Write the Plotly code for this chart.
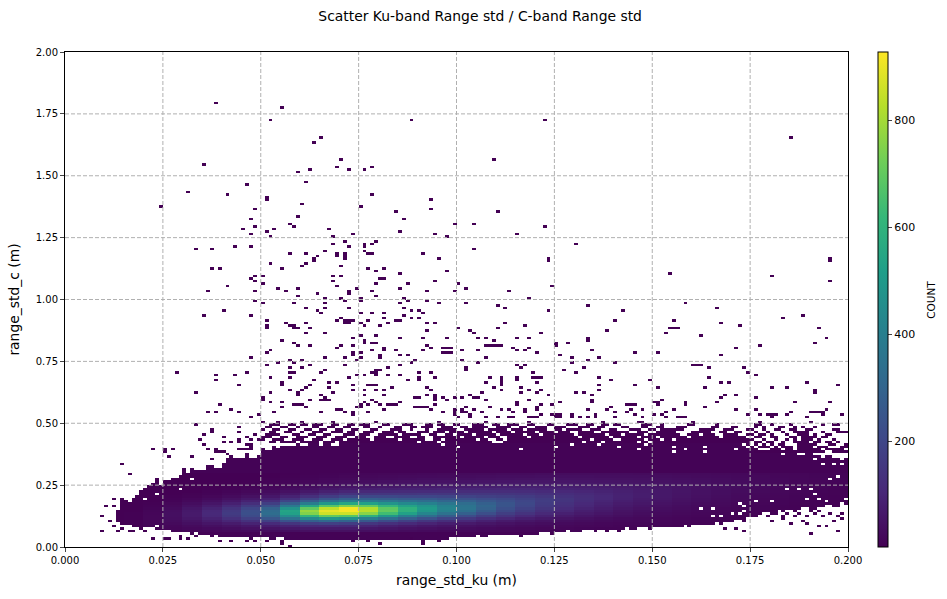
import numpy as np
import plotly.graph_objects as go

# histogram cells are 0.001 wide and 0.01 tall
n_xbins = 200
n_ybins = 200
x_width = 0.001
y_width = 0.01

x_ticks = [0.0, 0.025, 0.05, 0.075, 0.1, 0.125, 0.15, 0.175, 0.2]
y_ticks = [0.0, 0.25, 0.5, 0.75, 1.0, 1.25, 1.5, 1.75, 2.0]
count_ticks = [200, 400, 600, 800]
count_min = 3
count_max = 928
fringe_count = 8

# counts: one row per y from 0.06 to 0.29, one column per 0.005 of x from 0.010
core_first_row = 6
core_first_xbin = 10
core_xbin_step = 5
core_counts = [
    [1,3,8,12,16,20,24,28,32,38,42,44,44,40,36,32,28,24,22,20,18,16,14,12,11,10,9,8,7,6,5,5,4,4,3,3,2,2],
    [2,4,10,16,22,28,34,42,50,60,68,70,68,62,55,48,42,36,32,28,24,21,18,16,14,12,11,10,8,7,6,5,5,4,3,3,2,2],
    [2,5,13,20,30,40,50,62,76,92,105,110,105,95,82,72,62,54,46,40,34,29,25,21,18,16,14,12,10,9,8,6,5,5,4,3,3,2],
    [2,6,15,26,40,56,72,92,115,145,170,180,170,150,130,112,95,80,68,58,48,40,34,28,24,20,17,15,13,11,9,8,6,5,5,4,3,2],
    [2,6,17,32,50,74,100,135,180,240,285,310,295,255,215,180,150,125,105,85,70,58,48,38,32,27,22,19,16,13,11,9,8,6,5,4,3,3],
    [2,6,18,36,60,90,130,180,250,350,440,490,470,400,340,280,235,190,155,125,100,80,65,52,42,35,28,24,20,16,13,11,9,7,6,5,4,3],
    [2,6,18,40,68,105,155,215,305,450,610,700,680,590,490,400,330,270,220,175,140,110,88,70,56,46,36,29,24,20,16,13,10,8,7,5,4,3],
    [2,5,17,40,70,110,165,230,330,530,750,860,860,760,640,530,430,350,285,225,175,140,108,86,68,56,44,35,28,23,19,15,12,10,8,6,5,4],
    [1,4,15,36,66,105,160,225,325,540,780,895,920,830,700,590,490,405,335,265,205,165,128,102,80,65,50,41,33,27,22,18,14,11,9,7,5,4],
    [1,3,12,30,58,92,140,200,290,480,700,840,915,820,690,590,505,420,360,290,230,185,145,115,92,74,58,47,38,31,25,20,16,13,10,8,6,5],
    [1,2,9,24,46,74,112,165,235,380,550,680,750,700,610,535,480,410,355,300,245,200,160,128,102,82,65,53,43,35,28,23,18,14,11,9,7,5],
    [1,2,6,18,34,56,85,125,175,280,390,490,555,530,480,440,410,365,330,285,245,205,165,135,110,90,72,60,48,39,32,26,20,16,13,10,8,6],
    [1,1,4,12,24,40,62,90,125,195,275,350,400,390,370,345,330,305,285,255,230,200,170,142,118,98,80,66,54,44,36,29,23,18,14,11,9,7],
    [1,1,3,8,16,28,44,64,88,135,190,245,285,285,275,265,260,245,235,220,205,185,165,145,125,105,88,72,60,49,40,32,26,20,16,13,10,8],
    [1,1,2,5,10,18,30,44,62,92,130,170,200,205,205,200,200,195,190,180,175,165,150,135,120,105,90,76,63,52,43,35,28,22,18,14,11,9],
    [1,1,1,3,7,12,20,30,44,64,90,118,140,148,150,150,152,150,150,148,145,140,130,122,112,100,88,76,64,54,45,37,30,24,19,15,12,10],
    [1,1,1,2,4,8,14,21,31,46,64,84,100,108,112,114,116,118,120,120,120,118,112,106,100,92,84,74,64,55,46,38,32,26,21,17,13,10],
    [1,1,1,1,3,5,9,15,22,33,46,60,72,80,84,88,90,94,96,98,100,100,96,92,88,84,76,70,62,54,46,40,33,27,22,18,14,11],
    [1,1,1,1,2,4,6,10,16,24,34,44,54,60,64,68,72,75,78,80,82,84,82,80,76,74,68,64,58,52,46,40,34,28,23,19,15,12],
    [1,1,1,1,1,2,4,7,11,18,25,33,40,46,50,54,57,60,63,66,68,70,70,68,66,64,60,56,52,48,43,38,33,28,24,20,16,12],
    [1,1,1,1,1,2,3,5,8,13,19,25,31,35,39,42,45,48,51,54,56,58,58,58,56,54,52,50,46,43,39,35,31,27,23,20,16,13],
    [1,1,1,1,1,1,2,4,6,10,14,19,24,27,30,33,36,38,41,43,45,47,48,48,47,46,44,43,40,37,35,32,28,25,22,19,16,13],
    [1,1,1,1,1,1,2,3,4,7,11,14,18,21,23,26,28,30,32,34,36,38,39,39,39,38,37,36,34,32,30,28,25,23,20,18,15,12],
    [1,1,1,1,1,1,1,2,3,5,8,11,14,16,18,20,22,24,26,27,29,30,31,32,32,31,31,30,29,27,26,24,22,20,18,16,14,12],
]

# lowest and highest filled row of the solid band, for x bins 13 to 199
band_first_xbin = 13
band_top = [
    14,18,18,17,19,20,22,23,24,25,27,24,26,26,27,27,28,31,29,31,30,30,30,32,32,31,31,33,35,36,35,35,35,37,35,35,36,
    39,38,38,40,39,40,40,40,40,41, 40,40,41,41,41,40,41,41,40,40, 41,41,41,41,41,41,41,41,41,41,
    41,41,41,41,41,41,41,41,41,41, 41,41,41,41,41,41,41,41,41,41, 41,41,41,41,41,41,41,41,41,41,
    41,41,41,41,41,41,41,41,41,41, 41,41,41,41,41,41,41,41,41,41, 41,41,41,41,41,41,41,41,41,41,
    41,41,41,41,41,41,41,41,41,41, 41,41,41,41,41,41,41,41,41,41, 41,41,41,41,41,41,41,41,41,41,
    41,41,41,40,39,38,
    37,37,37,38,37,37,37,36,37,37, 37,36,36,37,37,36,36,35,36,36, 35,35,34,35,
]
band_bottom = [
    10,9,9,9,8,8,8,8,8,8,7,7,7,7,6,6,6,6,6,5,6,5,5,5,4,5,4,4,4,4,4,4,4,4,3,4,4,
    4,4,3,3,4,4,3,3,3,3, 3,3,3,3,3,3,3,3,3,3, 3,3,3,3,3,3,3,3,3,3,
    3,3,3,3,3,3,3,3,3,3, 3,3,3,3,3,3,3,3,4,4, 4,4,4,4,4,5,4,4,5,5,
    5,5,5,5,5,5,4,5,5,5, 5,6,6,6,5,6,6,6,7,6, 6,6,7,7,7,6,7,7,7,7,
    7,7,7,8,7,7,8,8,8,7, 8,8,8,8,8,8,8,8,9,8, 9,9,9,9,9,9,10,9,10,10,
    10,11,11,10,12,12, 13,13,14,14,13,13,15,14,15,15,14,15,16,16,15,15,16,16,17,17,16,16,17,17,
]

# white cells inside the band, (x bin, y row)
band_holes = [
    (20,19),(23,21),(29,23),(32,27),(23,8),(116,39),(191,35),(193,33),(196,33),(198,33),(199,36),(197,28),(195,27),
    (184,23),(187,23),(190,23),(191,21),(189,19),(192,19),(194,18),(198,17),(199,19),(176,18),(180,18),(173,16),
    (162,15),(165,15),(172,17),(173,14),(170,13),(172,13),(165,12),(167,12),(146,39),(155,40),(155,38),(158,39),
    (163,40),(163,38),(171,39),(96,41),(100,40),(125,40),(129,41),(136,41),(141,40),(148,41),
]

# loose cells above and around the band, (x bin, y row)
upper_cells = [
    (38,179),(55,177),(52,172),(88,172),(122,172),(65,165),(185,165),(63,163),(70,156),(109,156),(35,154),(69,153),
    (78,153),(62,152),(72,152),(76,152),(59,151),(61,147),(46,146),(31,143),(41,142),(78,142),(51,141),(51,140),
    (93,140),(60,138),(24,137),(75,137),(48,136),(93,136),(84,135),(110,135),(59,133),(47,132),(86,132),(57,130),
    (99,130),(104,130),(48,129),(58,129),(122,129),(45,128),(53,128),(67,128),(51,127),(85,127),(47,126),(73,126),
    (94,126),(115,126),(52,125),(68,125),(97,125),(71,123),(79,123),(68,122),(76,122),(78,122),(130,122),(43,121),
    (47,121),(72,121),(76,121),(33,120),(37,120),(104,120),(66,119),(76,119),(57,118),(61,118),(69,118),(71,118),
    (77,118),(78,118),(91,118),(64,117),(69,117),(71,117),(95,116),(63,116),(71,116),(123,116),(195,116),(123,115),
    (195,115),(63,115),(52,114),(61,114),(60,113),(70,113),(37,112),(39,112),(55,112),(77,112),(81,112),(79,111),
    (97,111),(85,110),(154,110),(48,109),(50,109),(68,109),(70,109),(180,109),(47,108),(80,108),(81,108),(48,107),
    (68,107),(94,107),(195,107),(50,106),(79,106),(87,106),(100,106),(41,105),(69,105),(124,105),(54,104),(59,104),
    (74,104),(85,104),(102,104),(36,103),(48,103),(56,103),(72,103),(78,103),(92,103),(99,103),(113,103),(64,102),
    (72,102),(59,101),(79,101),(66,100),(70,100),(75,100),(86,100),(118,100),(48,99),(71,99),(75,99),(87,99),(92,99),
    (50,98),(58,98),(66,98),(85,98),(95,98),(102,98),(158,98),(110,97),(133,97),(61,96),(66,96),(72,96),(86,96),
    (112,96),(166,96),(40,95),(64,95),(88,95),(90,95),(123,95),(142,95),(65,94),(75,94),(78,94),(81,94),(91,94),
    (35,93),(47,93),(86,93),(188,93),(70,92),(81,92),(88,92),(90,92),(183,92),(51,91),(69,91),(71,91),(72,91),(73,91),
    (77,91),(84,91),(85,91),(140,91),(155,91),(56,90),(61,90),(71,90),(72,90),(75,90),(82,90),(92,90),(94,90),(112,90),
    (167,90),(76,89),(80,89),(51,89),(57,89),(58,89),(117,89),(172,89),(51,88),(58,88),(59,88),(62,88),(100,88),
    (110,88),(154,88),(155,88),(156,88),(192,88),(92,87),(103,87),(138,87),(61,86),(66,86),(104,86),(121,86),(153,86),
    (75,85),(79,85),(162,85),(73,84),(85,84),(91,84),(97,84),(105,84),(107,84),(115,84),(118,84),(133,84),(194,84),
    (55,83),(76,83),(109,83),(133,83),(58,82),(76,82),(78,82),(79,82),(125,82),(128,82),(191,82),(59,81),(62,81),
    (70,81),(73,81),(92,81),(107,81),(108,81),(109,81),(110,81),(111,81),(125,81),(177,81),(69,80),(81,80),(93,80),
    (96,80),(97,80),(98,80),(114,80),(118,80),(171,80),(52,79),(78,79),(81,79),(84,79),(91,79),(101,79),(105,79),
    (115,79),(117,79),(134,79),(51,78),(73,78),(75,78),(96,78),(97,78),(98,78),(120,78),(145,78),(151,78),(73,77),
    (80,77),(85,77),(87,77),(126,77),(167,77),(47,76),(66,76),(71,76),(75,76),(80,76),(107,76),(129,76),(136,76),
    (57,75),(60,75),(74,75),(89,75),(101,75),(133,75),(54,74),(58,74),(88,74),(105,74),(129,74),(140,74),(51,73),
    (62,73),(71,73),(85,73),(115,73),(117,73),(160,73),(161,73),(162,73),(57,72),(60,72),(82,72),(102,72),(116,72),
    (132,72),(164,72),(173,72),(66,71),(79,71),(80,71),(102,71),(127,71),(28,70),(46,70),(57,70),(58,70),(65,70),
    (78,70),(79,70),(90,70),(93,70),(119,70),(130,70),(174,70),(38,69),(43,69),(74,69),(76,69),(79,69),(82,69),(85,69),
    (176,69),(52,68),(57,68),(72,68),(90,68),(94,68),(108,68),(111,68),(115,68),(119,68),(120,68),(121,68),(136,68),
    (164,68),(38,67),(63,67),(87,67),(90,67),(111,67),(115,67),(139,67),(149,67),(55,66),(67,66),(69,66),(107,66),
    (111,66),(120,66),(167,66),(169,66),(189,66),(44,65),(55,65),(62,65),(73,65),(77,65),(78,65),(79,65),(111,65),
    (136,65),(145,65),(197,65),(61,64),(67,64),(83,64),(92,64),(109,64),(116,64),(151,64),(163,64),(180,64),(184,64),
    (57,63),(60,63),(73,63),(76,63),(79,63),(81,63),(93,63),(111,63),(118,63),(121,63),(136,63),(191,63),(33,62),
    (52,62),(59,62),(68,62),(106,62),(116,62),(120,62),(130,62),(132,62),(191,62),(59,61),(65,61),(76,61),(81,61),
    (92,61),(94,61),(103,61),(123,61),(134,61),(168,61),(171,61),(50,60),(66,60),(89,60),(90,60),(94,60),(96,60),
    (99,60),(101,60),(104,60),(105,60),(167,60),(176,60),(50,59),(62,59),(65,59),(66,59),(67,59),(78,59),(94,59),
    (97,59),(107,59),(118,59),(134,59),(152,59),(52,58),(55,58),(76,58),(79,58),(85,58),(115,58),(126,58),(134,58),
    (150,58),(151,58),(158,58),(166,58),(186,58),(195,58),(39,57),(58,57),(59,57),(60,57),(75,57),(77,57),(80,57),
    (82,57),(83,57),(84,57),(94,57),(115,57),(121,57),(124,57),(143,57),(144,57),(145,57),(151,57),(158,57),(55,56),
    (61,56),(74,56),(75,56),(89,56),(90,56),(91,56),(92,56),(102,56),(108,56),(120,56),(139,56),(163,56),(42,55),
    (69,55),(70,55),(81,55),(93,55),(99,55),(101,55),(104,55),(111,55),(113,55),(117,55),(120,55),(133,55),(138,55),
    (144,55),(147,55),(155,55),(171,55),(176,55),(194,55),(36,54),(38,54),(44,54),(53,54),(65,54),(71,54),(73,54),
    (77,54),(96,54),(99,54),(101,54),(102,54),(106,54),(114,54),(117,54),(140,54),(143,54),(153,54),(185,54),(190,54),
    (191,54),(192,54),(193,54),(49,53),(73,53),(99,53),(103,53),(121,53),(124,53),(125,53),(126,53),(129,53),(135,53),
    (145,53),(150,53),(152,53),(174,53),(177,53),(179,53),(180,53),(181,53),(184,53),(193,53),(198,53),(47,52),(100,52),
    (103,52),(107,52),(110,52),(113,52),(114,52),(118,52),(119,52),(120,52),(125,52),(126,52),(129,52),(131,52),(133,52),
    (135,52),(140,52),(147,52),(153,52),(156,52),(157,52),(158,52),(180,52),(189,52),
    (33,49),(44,48),(37,47),(37,46),(44,46),(35,45),(48,45),(40,44),(46,44),(34,43),(44,43),(47,43),(49,43),(40,42),
    (42,42),(44,42),(35,41),(46,41),(47,41),(47,40),(22,39),(25,39),(27,39),(36,39),(38,39),(44,39),(45,39),(46,39),
    (47,39),(25,38),(38,38),(39,38),(40,38),(41,37),(26,36),(32,36),(37,35),(14,33),(16,29),
    (9,6),(13,6),(16,6),(17,6),(20,6),(14,7),(12,8),(19,7),(22,3),(25,3),(26,3),(29,4),(29,3),(31,3),(33,4),(57,0),
    (9,12),(11,10),(10,16),(12,16),(12,19),(14,19),(39,2),(42,2),(46,2),(48,2),(51,2),(55,2),(55,1),(73,2),(77,2),(80,1),
    (88,3),(91,2),(91,1),(95,2),(138,6),(141,6),(168,7),(171,7),(173,6),(190,5),(185,9),(189,9),(192,8),(194,8),(197,6),
    (198,11),(178,14),(180,14),(186,14),(190,14),(192,14),(177,13),(184,13),(187,13),(191,13),(195,13),(198,13),(176,12),
    (179,12),(183,12),(186,12),(189,12),(193,12),(197,12),(183,11),(180,10),(188,10),(196,10),
]

# the ragged top of the band: runs of filled x bins (first, last) per y row
rag_runs = {
    50: [(50,50),(54,54),(60,60),(68,68),(79,79),(95,95),(107,107),(118,118),(137,137),(146,147),(160,160),(177,177),(190,190)],
    49: [(52,54),(57,58),(60,61),(63,65),(68,69),(72,73),(75,77),(81,82),(86,88),(92,93),(95,96),(99,100),(104,106),(109,110),
         (113,115),(118,119),(123,124),(128,130),(133,134),(137,138),(140,141),(147,149),(152,152),(159,160),(166,166),(176,177),
         (180,180),(185,185),(193,193),(196,197)],
    48: [(51,52),(55,56),(59,59),(63,64),(67,68),(71,72),(76,77),(80,80),(84,85),(88,89),(91,93),(96,98),(101,102),(104,107),
         (110,113),(116,117),(120,122),(125,127),(131,133),(136,137),(142,143),(147,148),(151,152),(156,158),(165,166),(170,171),
         (176,176),(178,178),(182,183),(186,186),(188,188),(191,191)],
    47: [(50,50),(53,54),(57,58),(61,62),(65,66),(69,70),(73,74),(78,79),(83,85),(88,88),(92,92),(95,99),(102,106),(108,112),
         (114,116),(118,122),(125,126),(128,131),(134,136),(139,140),(144,146),(149,150),(152,157),(162,165),(168,170),(174,175),
         (178,178),(181,182),(185,186),(189,190),(196,197)],
    46: [(52,53),(56,57),(60,60),(63,65),(68,70),(72,73),(76,78),(81,83),(85,86),(90,92),(94,96),(98,101),(103,108),(110,113),
         (115,119),(121,124),(126,128),(131,134),(137,143),(146,148),(151,155),(160,164),(167,168),(171,172),(176,176),(179,179),
         (183,183),(186,189),(193,193),(197,199)],
    45: [(51,54),(58,59),(62,63),(66,67),(71,73),(75,77),(80,84),(86,90),(93,94),(97,98),(100,103),(105,109),(111,116),(118,120),
         (122,129),(131,137),(139,141),(143,147),(149,156),(159,161),(163,165),(168,171),(174,175),(177,178),(180,180),(184,184),
         (187,189),(191,191),(194,195)],
    44: [(50,52),(55,56),(59,61),(64,66),(69,71),(74,76),(79,81),(84,87),(90,91),(94,100),(102,106),(108,110),(113,117),(119,130),
         (132,138),(140,145),(147,150),(152,158),(160,166),(168,173),(176,177),(180,181),(185,186),(188,191),(193,194)],
    43: [(50,50),(53,55),(58,60),(63,65),(68,70),(72,77),(79,84),(86,91),(94,95),(97,104),(106,107),(110,111),(113,133),(135,139),
         (142,147),(149,151),(153,154),(156,175),(178,178),(181,181),(184,184),(186,186),(188,190),(192,192),(196,196)],
    42: [(52,53),(55,58),(60,64),(66,68),(70,89),(91,94),(96,108),(112,131),(133,136),(138,145),(147,148),(150,174),(176,177),
         (179,180),(183,183),(186,189),(191,192),(194,195),(197,197)],
    41: [(174,174),(176,176),(178,178),(180,180),(182,183),(187,191),(195,196),(199,199)],
    40: [(175,175),(177,179),(181,181),(183,185),(187,190),(192,194),(198,199)],
    39: [(175,176),(180,182),(184,185),(187,192),(194,198)],
    38: [(176,193),(196,199)],
}

z = [[None] * n_xbins for _ in range(n_ybins)]


def cell_count(xbin, row):
    r = row - core_first_row
    c = (xbin - core_first_xbin) // core_xbin_step
    if 0 <= r < len(core_counts) and 0 <= c < len(core_counts[0]):
        return core_counts[r][c]
    return fringe_count


for i, (bottom, top) in enumerate(zip(band_bottom, band_top)):
    xbin = band_first_xbin + i
    for row in range(bottom, top + 1):
        z[row][xbin] = cell_count(xbin, row)
for xbin, row in band_holes:
    z[row][xbin] = None
for xbin, row in upper_cells:
    z[row][xbin] = 1
for row, runs in rag_runs.items():
    for first, last in runs:
        for xbin in range(first, last + 1):
            z[row][xbin] = 2

x_centres = (np.arange(n_xbins) + 0.5) * x_width
y_centres = (np.arange(n_ybins) + 0.5) * y_width

fig = go.Figure(go.Heatmap(
    x=x_centres,
    y=y_centres,
    z=z,
    colorscale='Viridis',
    zmin=count_min,
    zmax=count_max,
    zsmooth=False,
    hoverongaps=False,
    colorbar=dict(
        x=1.0383,
        xanchor='left',
        xpad=0,
        ypad=0,
        y=0.5,
        len=1,
        thickness=10,
        outlinecolor='black',
        outlinewidth=1,
        ticks='outside',
        ticklen=4,
        tickwidth=1,
        tickvals=count_ticks,
        tickfont=dict(size=11, color='black'),
    ),
))

# grid sits on top of the cells, plotly's own grid would be hidden under them
grid_style = dict(color='rgba(176,176,176,1)', width=1, dash='4px,2px')
for tick in x_ticks[1:-1]:
    fig.add_vline(x=tick, line=grid_style, layer='above')
for tick in y_ticks[1:-1]:
    fig.add_hline(y=tick, line=grid_style, layer='above')

fig.add_annotation(
    text='COUNT', textangle=-90, xref='paper', yref='paper', x=1.1153, y=0.5,
    showarrow=False, font=dict(size=10.5, color='black'),
)

fig.update_layout(
    width=947,
    height=599,
    margin=dict(l=65, r=99, t=52, b=52),
    paper_bgcolor='white',
    plot_bgcolor='white',
    font=dict(family='DejaVu Sans', color='black'),
    title=dict(
        text='Scatter Ku-band Range std / C-band Range std',
        x=0.507, xanchor='center', y=0.973, yanchor='middle',
        font=dict(size=13.9, color='black'),
    ),
    xaxis=dict(
        range=[0, 0.2], tickvals=x_ticks, tickformat='.3f', showgrid=False, zeroline=False,
        showline=True, mirror=True, linecolor='black', linewidth=1,
        ticks='outside', ticklen=4, tickwidth=1, tickfont=dict(size=10),
        title=dict(text='range_std_ku (m)', font=dict(size=13.9), standoff=10),
    ),
    yaxis=dict(
        range=[0, 2], tickvals=y_ticks, tickformat='.2f', showgrid=False, zeroline=False,
        showline=True, mirror=True, linecolor='black', linewidth=1,
        ticks='outside', ticklen=4, tickwidth=1, tickfont=dict(size=10),
        title=dict(text='range_std_c (m)', font=dict(size=13.9), standoff=12),
    ),
)

fig.write_html("out.html", config={'displayModeBar': False}, post_script="document.body.style.margin='0';")
